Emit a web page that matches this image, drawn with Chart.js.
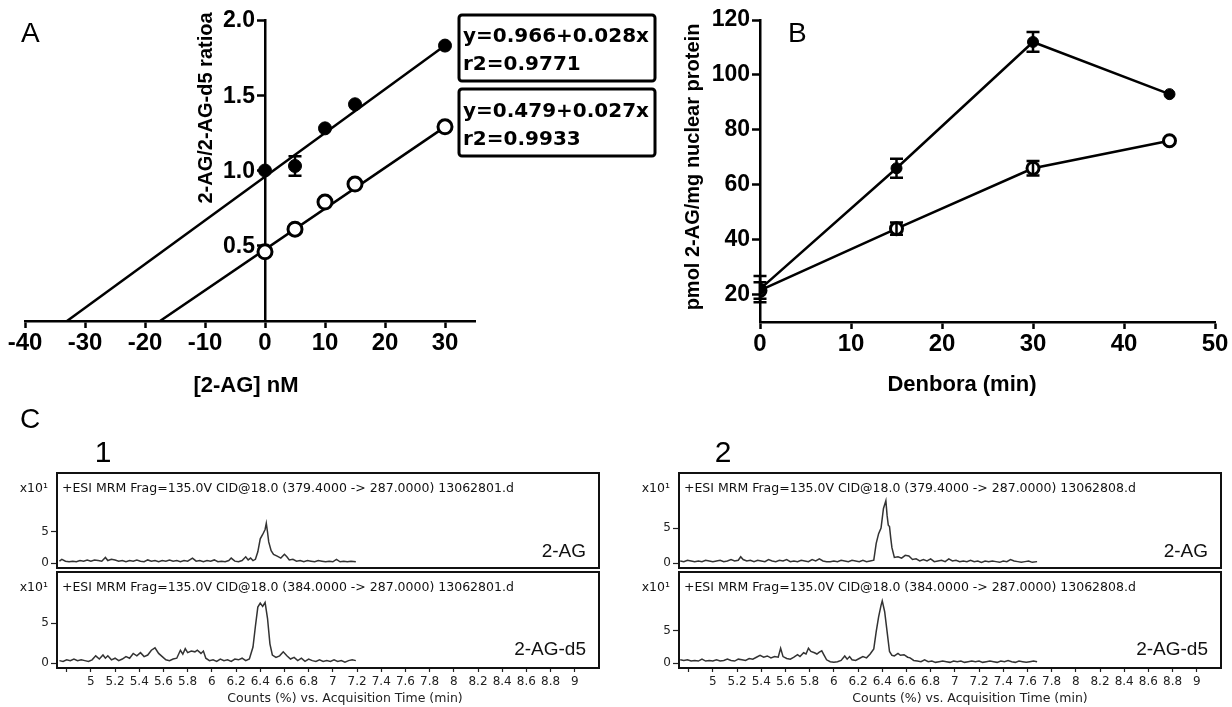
<!DOCTYPE html>
<html>
<head>
<meta charset="utf-8">
<script src="https://cdn.jsdelivr.net/npm/chart.js@4.4.1/dist/chart.umd.min.js"></script>
<style>
  html, body { margin: 0; padding: 0; background: #fff; }
  #wrap { position: relative; width: 1232px; height: 707px; overflow: hidden; background: #fff; }
  canvas { position: absolute; }
</style>
</head>
<body>
<div id="wrap">
  <canvas id="cvA" style="left:0;top:0" width="660" height="400"></canvas>
  <canvas id="cvB" style="left:660px;top:0" width="572" height="400"></canvas>
  <canvas id="cvC1a" style="left:0;top:400px" width="616" height="173"></canvas>
  <canvas id="cvC1b" style="left:0;top:570px" width="616" height="137"></canvas>
  <canvas id="cvC2a" style="left:616px;top:400px" width="616" height="173"></canvas>
  <canvas id="cvC2b" style="left:616px;top:570px" width="616" height="137"></canvas>
</div>
<script>
// ---- Panel A: standard addition ----
const aConc = [0, 5, 10, 15, 30];
const aRatioFilled = [1.00, 1.03, 1.28, 1.44, 1.83];
const aErrFilled = [0, 0.065, 0, 0, 0];
const aRatioOpen = [0.46, 0.61, 0.79, 0.91, 1.29];
const aFitFilledX = [-33, 30];
const aFitFilledY = [0, 1.83];
const aFitOpenX = [-17.5, 30];
const aFitOpenY = [0, 1.29];
const aXTicks = [-40, -30, -20, -10, 0, 10, 20, 30];
const aYTicks = [0.5, 1.0, 1.5, 2.0];

// ---- Panel B: time course ----
const bTime = [0, 15, 30, 45];
const bFilled = [22, 66, 112, 93];
const bFilledErr = [4.8, 3.5, 3.6, 0];
const bOpen = [21.5, 44, 66, 76];
const bOpenErr = [3, 2.2, 2.6, 0];
const bXTicks = [0, 10, 20, 30, 40, 50];
const bYTicks = [20, 40, 60, 80, 100, 120];

// ---- Panel C: MRM chromatograms (x10^1 counts vs min) ----
const cXTicks = [4.8, 5, 5.2, 5.4, 5.6, 5.8, 6, 6.2, 6.4, 6.6, 6.8, 7, 7.2, 7.4, 7.6, 7.8, 8, 8.2, 8.4, 8.6, 8.8, 9];
const cYTicks = [0, 5];

const c1TopTime = [4.74, 4.76, 4.79, 4.82, 4.85, 4.88, 4.91, 4.94, 4.97, 5.00, 5.03, 5.06, 5.09, 5.12, 5.14, 5.17, 5.20, 5.23, 5.26, 5.29, 5.32, 5.35, 5.38, 5.41, 5.44, 5.47, 5.50, 5.53, 5.56, 5.59, 5.62, 5.65, 5.68, 5.71, 5.74, 5.77, 5.80, 5.84, 5.87, 5.90, 5.93, 5.96, 5.99, 6.02, 6.05, 6.08, 6.11, 6.14, 6.16, 6.19, 6.22, 6.25, 6.28, 6.30, 6.32, 6.34, 6.36, 6.38, 6.40, 6.42, 6.44, 6.45, 6.46, 6.47, 6.49, 6.51, 6.54, 6.57, 6.60, 6.62, 6.64, 6.67, 6.70, 6.73, 6.76, 6.79, 6.82, 6.85, 6.88, 6.91, 6.94, 6.97, 7.00, 7.03, 7.06, 7.09, 7.12, 7.15, 7.19];
const c1TopCounts = [0.3, 0.6, 0.3, 0.2, 0.3, 0.2, 0.4, 0.3, 0.5, 0.3, 0.5, 0.4, 0.3, 0.9, 0.4, 0.6, 0.5, 0.3, 0.4, 0.2, 0.4, 0.3, 0.5, 0.3, 0.2, 0.5, 0.3, 0.4, 0.2, 0.4, 0.3, 0.5, 0.3, 0.4, 0.2, 0.4, 0.3, 0.8, 0.3, 0.4, 0.2, 0.4, 0.3, 0.5, 0.2, 0.3, 0.2, 0.4, 0.8, 0.3, 0.2, 0.4, 1.0, 0.5, 0.8, 0.4, 0.6, 1.8, 3.9, 4.6, 5.4, 6.4, 5.0, 3.4, 2.0, 1.4, 1.1, 0.8, 1.4, 1.0, 0.5, 0.6, 0.3, 0.4, 0.2, 0.4, 0.3, 0.2, 0.4, 0.3, 0.2, 0.3, 0.2, 0.6, 0.2, 0.3, 0.2, 0.3, 0.2];

const c1BotTime = [4.74, 4.77, 4.80, 4.83, 4.86, 4.89, 4.92, 4.95, 4.98, 5.01, 5.04, 5.07, 5.10, 5.12, 5.14, 5.17, 5.20, 5.23, 5.26, 5.29, 5.32, 5.35, 5.38, 5.41, 5.44, 5.47, 5.50, 5.53, 5.56, 5.59, 5.62, 5.65, 5.68, 5.71, 5.74, 5.76, 5.78, 5.80, 5.83, 5.86, 5.88, 5.91, 5.93, 5.95, 5.98, 6.01, 6.04, 6.07, 6.10, 6.13, 6.16, 6.19, 6.22, 6.25, 6.28, 6.31, 6.34, 6.36, 6.38, 6.40, 6.42, 6.44, 6.46, 6.48, 6.50, 6.53, 6.56, 6.59, 6.62, 6.65, 6.68, 6.71, 6.74, 6.77, 6.80, 6.83, 6.86, 6.89, 6.92, 6.95, 6.98, 7.01, 7.04, 7.07, 7.10, 7.13, 7.16, 7.19];
const c1BotCounts = [0.3, 0.2, 0.4, 0.3, 0.5, 0.3, 0.4, 0.3, 0.2, 0.4, 0.9, 0.5, 1.0, 0.6, 0.9, 0.4, 0.6, 0.3, 0.5, 0.8, 0.6, 1.2, 0.9, 1.3, 0.8, 1.0, 1.6, 1.9, 1.2, 0.8, 0.4, 0.3, 0.5, 0.6, 1.6, 1.1, 1.8, 1.3, 1.5, 1.4, 1.6, 1.2, 1.5, 0.6, 0.3, 0.4, 0.2, 0.5, 0.3, 0.4, 0.2, 0.5, 0.4, 0.6, 0.3, 0.5, 2.0, 4.6, 7.0, 7.5, 7.1, 7.6, 5.6, 2.4, 1.0, 0.7, 0.9, 1.4, 0.9, 0.5, 0.7, 0.3, 0.6, 0.2, 0.5, 0.3, 0.2, 0.4, 0.2, 0.3, 0.2, 0.4, 0.2, 0.3, 0.1, 0.3, 0.4, 0.3];

const c2TopTime = [4.73, 4.76, 4.79, 4.82, 4.85, 4.88, 4.91, 4.94, 4.97, 5.00, 5.03, 5.06, 5.09, 5.12, 5.15, 5.18, 5.21, 5.23, 5.25, 5.28, 5.31, 5.34, 5.37, 5.40, 5.43, 5.46, 5.49, 5.52, 5.55, 5.58, 5.61, 5.64, 5.67, 5.70, 5.73, 5.76, 5.79, 5.82, 5.85, 5.88, 5.91, 5.94, 5.97, 6.00, 6.03, 6.06, 6.09, 6.12, 6.15, 6.18, 6.21, 6.24, 6.27, 6.30, 6.33, 6.35, 6.37, 6.39, 6.41, 6.43, 6.44, 6.45, 6.46, 6.47, 6.48, 6.50, 6.53, 6.56, 6.59, 6.62, 6.65, 6.68, 6.71, 6.74, 6.77, 6.80, 6.83, 6.86, 6.89, 6.92, 6.95, 6.98, 7.01, 7.04, 7.07, 7.10, 7.13, 7.16, 7.19, 7.22, 7.25, 7.28, 7.31, 7.34, 7.37, 7.40, 7.43, 7.46, 7.49, 7.52, 7.55, 7.58, 7.61, 7.64, 7.68];
const c2TopCounts = [0.3, 0.2, 0.4, 0.3, 0.2, 0.3, 0.2, 0.4, 0.3, 0.2, 0.3, 0.4, 0.2, 0.3, 0.5, 0.3, 0.4, 0.9, 0.5, 0.3, 0.4, 0.2, 0.4, 0.3, 0.2, 0.5, 0.3, 0.2, 0.4, 0.3, 0.5, 0.2, 0.3, 0.2, 0.4, 0.3, 0.2, 0.5, 0.3, 0.6, 0.3, 0.2, 0.2, 0.3, 0.2, 0.4, 0.3, 0.2, 0.4, 0.3, 0.2, 0.4, 0.2, 0.3, 0.4, 2.8, 4.2, 5.0, 7.8, 8.9, 6.8, 5.4, 5.2, 3.6, 2.2, 0.8, 0.9, 0.7, 1.1, 1.0, 0.5, 0.6, 0.3, 0.5, 0.3, 0.6, 0.2, 0.3, 0.4, 0.2, 0.6, 0.3, 0.4, 0.2, 0.3, 0.2, 0.4, 0.2, 0.3, 0.1, 0.3, 0.2, 0.3, 0.2, 0.1, 0.3, 0.2, 0.5, 0.3, 0.2, 0.1, 0.2, 0.3, 0.1, 0.2];

const c2BotTime = [4.73, 4.76, 4.79, 4.82, 4.85, 4.88, 4.91, 4.94, 4.97, 5.00, 5.03, 5.06, 5.09, 5.12, 5.15, 5.18, 5.21, 5.24, 5.27, 5.30, 5.33, 5.36, 5.39, 5.42, 5.45, 5.48, 5.51, 5.54, 5.56, 5.58, 5.61, 5.64, 5.67, 5.70, 5.72, 5.75, 5.77, 5.79, 5.81, 5.84, 5.86, 5.88, 5.90, 5.92, 5.94, 5.97, 6.00, 6.03, 6.06, 6.09, 6.11, 6.13, 6.15, 6.18, 6.21, 6.24, 6.27, 6.30, 6.33, 6.35, 6.37, 6.39, 6.40, 6.42, 6.44, 6.46, 6.48, 6.50, 6.53, 6.55, 6.58, 6.61, 6.63, 6.66, 6.69, 6.72, 6.75, 6.78, 6.81, 6.84, 6.87, 6.90, 6.93, 6.96, 6.99, 7.02, 7.05, 7.08, 7.11, 7.14, 7.17, 7.20, 7.23, 7.26, 7.29, 7.32, 7.35, 7.38, 7.41, 7.44, 7.47, 7.50, 7.53, 7.56, 7.59, 7.62, 7.65, 7.68];
const c2BotCounts = [0.5, 0.4, 0.5, 0.3, 0.4, 0.3, 0.6, 0.3, 0.4, 0.3, 0.5, 0.3, 0.4, 0.6, 0.4, 0.3, 0.6, 0.5, 0.4, 0.7, 0.6, 0.9, 1.2, 0.9, 1.1, 0.8, 1.0, 0.9, 2.3, 1.0, 0.7, 0.6, 0.9, 1.3, 1.0, 1.6, 1.4, 2.3, 1.8, 1.6, 1.4, 1.7, 1.9, 1.2, 0.5, 0.2, 0.1, 0.2, 0.4, 1.1, 0.6, 1.0, 0.5, 0.4, 0.7, 1.0, 0.8, 1.4, 2.2, 4.9, 7.2, 9.0, 9.7, 8.0, 4.9, 1.8, 1.2, 1.1, 1.5, 1.2, 1.3, 0.9, 0.8, 0.4, 0.3, 0.2, 0.5, 0.2, 0.3, 0.1, 0.2, 0.3, 0.2, 0.1, 0.3, 0.2, 0.3, 0.1, 0.2, 0.3, 0.2, 0.3, 0.1, 0.2, 0.3, 0.2, 0.1, 0.3, 0.2, 0.4, 0.2, 0.1, 0.3, 0.2, 0.1, 0.2, 0.3, 0.2];

// Build {x, y} points from two arrays
function toPoints(xs, ys) {
  return xs.map(function (x, i) { return { x: x, y: ys[i] }; });
}

// Draw vertical error bars with caps for datasets that carry an errors array
const errorBars = {
  id: "errorBars",
  afterDatasetsDraw(chart, args, opts) {
    const ctx = chart.ctx;
    const yScale = chart.scales.y;
    chart.data.datasets.forEach(function (ds, i) {
      if (!ds.errors) return;
      const meta = chart.getDatasetMeta(i);
      ctx.save();
      ctx.strokeStyle = "#000";
      ctx.lineWidth = opts.width || 2.5;
      meta.data.forEach(function (pt, j) {
        const e = ds.errors[j];
        if (!e) return;
        const v = ds.data[j].y;
        const y1 = yScale.getPixelForValue(v + e);
        const y2 = yScale.getPixelForValue(v - e);
        const half = opts.cap || 6.5;
        ctx.beginPath();
        ctx.moveTo(pt.x, y1); ctx.lineTo(pt.x, y2);
        ctx.moveTo(pt.x - half, y1); ctx.lineTo(pt.x + half, y1);
        ctx.moveTo(pt.x - half, y2); ctx.lineTo(pt.x + half, y2);
        ctx.stroke();
      });
      ctx.restore();
    });
  },
};

// Free text and boxes at fixed canvas positions
const textLayer = {
  id: "textLayer",
  afterDraw(chart, args, opts) {
    const ctx = chart.ctx;
    (opts.boxes || []).forEach(function (b) {
      ctx.save();
      ctx.strokeStyle = "#000";
      ctx.lineWidth = b.width || 3;
      ctx.beginPath();
      ctx.roundRect(b.x, b.y, b.w, b.h, 3);
      ctx.stroke();
      ctx.restore();
    });
    (opts.items || []).forEach(function (it) {
      ctx.save();
      ctx.font = it.font;
      ctx.fillStyle = it.color || "#000";
      ctx.textAlign = it.align || "left";
      ctx.textBaseline = "alphabetic";
      ctx.translate(it.x, it.y);
      if (it.rotate) ctx.rotate(it.rotate);
      ctx.fillText(it.text, 0, 0);
      ctx.restore();
    });
  },
};

// Labels for a y axis that crosses at x = 0 (placed left of its tick marks)
const crossLabels = {
  id: "crossLabels",
  afterDraw(chart, args, opts) {
    if (!opts.values) return;
    const ctx = chart.ctx;
    const x0 = chart.scales.x.getPixelForValue(0);
    ctx.save();
    ctx.font = opts.font;
    ctx.fillStyle = "#000";
    ctx.textAlign = "right";
    ctx.textBaseline = "middle";
    opts.values.forEach(function (v) {
      ctx.fillText(v.toFixed(1), x0 - opts.gap, chart.scales.y.getPixelForValue(v) + 1);
    });
    ctx.restore();
  },
};

// Frame, header and compound label of a chromatogram pane
const chromFrame = {
  id: "chromFrame",
  afterDraw(chart, args, opts) {
    const ctx = chart.ctx;
    const a = chart.chartArea;
    ctx.save();
    ctx.strokeStyle = "#111";
    ctx.lineWidth = 2;
    ctx.strokeRect(a.left, a.top, a.right - a.left, a.bottom - a.top);
    ctx.fillStyle = "#111";
    ctx.font = "12.5px 'DejaVu Sans'";
    ctx.textAlign = "left";
    ctx.fillText(opts.header, a.left + 5, a.top + 19);
    ctx.textAlign = "right";
    ctx.fillText("x10\u00b9", a.left - 9, a.top + 19);
    ctx.font = "19px 'Liberation Sans'";
    ctx.fillText(opts.label, a.right - 13, a.bottom - opts.labelLift);
    ctx.restore();
  },
};

Chart.register(errorBars, textLayer);

const black = "#000";
const boldTick = { family: "'Liberation Sans'", size: 24, weight: "bold" };

function axisGrid(len) {
  return { display: true, drawOnChartArea: false, tickLength: len, tickWidth: 2.5, tickColor: black };
}

// ---- Panel A ----
new Chart(document.getElementById("cvA"), {
  type: "scatter",
  plugins: [crossLabels],
  data: {
    datasets: [
      { data: toPoints(aConc, aRatioFilled), errors: aErrFilled, pointRadius: 6.5, pointBackgroundColor: black, pointBorderColor: black, pointBorderWidth: 1, showLine: false },
      { data: toPoints(aConc, aRatioOpen), pointRadius: 7, pointBackgroundColor: "#fff", pointBorderColor: black, pointBorderWidth: 3, showLine: false },
      { data: toPoints(aFitFilledX, aFitFilledY), showLine: true, pointRadius: 0, borderColor: black, borderWidth: 2.5 },
      { data: toPoints(aFitOpenX, aFitOpenY), showLine: true, pointRadius: 0, borderColor: black, borderWidth: 2.5 },
    ],
  },
  options: {
    responsive: false,
    animation: false,
    devicePixelRatio: 1,
    layout: { padding: { left: 25, right: 185, top: 20, bottom: 0 } },
    plugins: {
      legend: { display: false },
      tooltip: { enabled: false },
      errorBars: { width: 2.5, cap: 6.5 },
      crossLabels: { values: aYTicks, font: "bold 23px 'Liberation Sans'", gap: 10 },
      textLayer: {
        boxes: [
          { x: 459, y: 15, w: 196, h: 66 },
          { x: 459, y: 89, w: 196, h: 67 },
        ],
        items: [
          { text: "A", x: 21, y: 42, font: "28px 'Liberation Sans'" },
          { text: "2-AG/2-AG-d5 ratioa", x: 212, y: 108, font: "bold 20px 'Liberation Sans'", align: "center", rotate: -Math.PI / 2 },
          { text: "[2-AG] nM", x: 246, y: 392, font: "bold 22px 'Liberation Sans'", align: "center" },
          { text: "y=0.966+0.028x", x: 463, y: 42, font: "bold 20px 'DejaVu Sans'" },
          { text: "r2=0.9771", x: 463, y: 70, font: "bold 20px 'DejaVu Sans'" },
          { text: "y=0.479+0.027x", x: 463, y: 117, font: "bold 20px 'DejaVu Sans'" },
          { text: "r2=0.9933", x: 463, y: 145, font: "bold 20px 'DejaVu Sans'" },
        ],
      },
    },
    scales: {
      x: {
        type: "linear", min: -40, max: 35, position: "bottom",
        afterBuildTicks: function (s) { s.ticks = aXTicks.map(function (v) { return { value: v }; }); },
        afterFit: function (s) { s.height = 79; },
        ticks: { color: black, font: boldTick, padding: 1, maxRotation: 0 },
        grid: axisGrid(7),
        border: { display: true, color: black, width: 2.5 },
      },
      y: {
        type: "linear", min: 0, max: 2, position: { x: 0 },
        afterBuildTicks: function (s) { s.ticks = aYTicks.map(function (v) { return { value: v }; }); },
        afterFit: function (s) { s.width = 0; },
        ticks: { display: false },
        grid: axisGrid(7),
        border: { display: true, color: black, width: 2.5 },
      },
    },
  },
});

// ---- Panel B ----
new Chart(document.getElementById("cvB"), {
  type: "scatter",
  data: {
    datasets: [
      { data: toPoints(bTime, bFilled), errors: bFilledErr, showLine: true, borderColor: black, borderWidth: 2.5, pointRadius: 5.5, pointBackgroundColor: black, pointBorderColor: black, pointBorderWidth: 1 },
      { data: toPoints(bTime, bOpen), errors: bOpenErr, showLine: true, borderColor: black, borderWidth: 2.5, pointRadius: 6, pointBackgroundColor: "#fff", pointBorderColor: black, pointBorderWidth: 3 },
    ],
  },
  options: {
    responsive: false,
    animation: false,
    devicePixelRatio: 1,
    layout: { padding: { left: 0, right: 17, top: 20, bottom: 0 } },
    plugins: {
      legend: { display: false },
      tooltip: { enabled: false },
      errorBars: { width: 2.5, cap: 6.5 },
      textLayer: {
        items: [
          { text: "B", x: 128, y: 42, font: "28px 'Liberation Sans'" },
          { text: "pmol 2-AG/mg nuclear protein", x: 39, y: 167, font: "bold 20px 'Liberation Sans'", align: "center", rotate: -Math.PI / 2 },
          { text: "Denbora (min)", x: 302, y: 391, font: "bold 22px 'Liberation Sans'", align: "center" },
        ],
      },
    },
    scales: {
      x: {
        type: "linear", min: 0, max: 50, position: "bottom",
        afterBuildTicks: function (s) { s.ticks = bXTicks.map(function (v) { return { value: v }; }); },
        afterFit: function (s) { s.height = 78; },
        ticks: { color: black, font: boldTick, padding: 1, maxRotation: 0 },
        grid: axisGrid(7),
        border: { display: true, color: black, width: 2.5 },
      },
      y: {
        type: "linear", min: 10, max: 120, position: "left",
        afterBuildTicks: function (s) { s.ticks = bYTicks.map(function (v) { return { value: v }; }); },
        afterFit: function (s) { s.width = 100; },
        ticks: { color: black, font: { family: "'Liberation Sans'", size: 23, weight: "bold" }, padding: 2 },
        grid: axisGrid(8),
        border: { display: true, color: black, width: 2.5 },
      },
    },
  },
});

// ---- Panel C ----
const chromFont = { family: "'DejaVu Sans'", size: 12 };

function makeChrom(id, time, counts, cfg) {
  new Chart(document.getElementById(id), {
    type: "line",
    plugins: [chromFrame],
    data: {
      datasets: [{
        data: toPoints(time, counts),
        borderColor: "#333",
        borderWidth: 1.5,
        pointRadius: 0,
        tension: 0,
      }],
    },
    options: {
      responsive: false,
      animation: false,
      devicePixelRatio: 1,
      layout: { padding: { left: 0, right: cfg.padRight, top: cfg.padTop, bottom: cfg.showX ? 0 : 5 } },
      plugins: {
        legend: { display: false },
        tooltip: { enabled: false },
        chromFrame: { header: cfg.header, label: cfg.label, labelLift: cfg.labelLift },
        textLayer: { items: cfg.texts || [] },
      },
      scales: {
        x: {
          type: "linear", min: 4.72, max: 9.2, display: cfg.showX,
          afterBuildTicks: function (s) { s.ticks = cXTicks.map(function (v) { return { value: v }; }); },
          afterFit: function (s) { s.height = cfg.showX ? 39 : 0; },
          ticks: {
            color: "#222", font: chromFont, padding: 3, maxRotation: 0, autoSkip: false,
            callback: function (v) { return v < 4.9 ? "" : String(Number(v.toFixed(1))); },
          },
          grid: { display: true, drawOnChartArea: false, tickLength: 4, tickWidth: 1.2, tickColor: "#222" },
          border: { display: true, color: "#111", width: 2 },
        },
        y: {
          type: "linear", min: cfg.yMin, max: cfg.yMax, position: "left",
          afterBuildTicks: function (s) { s.ticks = cYTicks.map(function (v) { return { value: v }; }); },
          afterFit: function (s) { s.width = cfg.yWidth; s.paddingTop = 0; s.paddingBottom = 0; },
          ticks: { color: "#222", font: chromFont, padding: 2 },
          grid: { display: true, drawOnChartArea: false, tickLength: 6, tickWidth: 1.2, tickColor: "#222" },
          border: { display: true, color: "#111", width: 2 },
        },
      },
    },
  });
}

const axisTitleC = "Counts (%) vs. Acquisition Time (min)";

makeChrom("cvC1a", c1TopTime, c1TopCounts, {
  header: "+ESI MRM Frag=135.0V CID@18.0 (379.4000 -> 287.0000) 13062801.d",
  label: "2-AG", labelLift: 11, showX: false, padTop: 73, padRight: 17, yWidth: 57,
  yMin: -0.8, yMax: 14.5,
  texts: [
    { text: "C", x: 20, y: 28, font: "28px 'Liberation Sans'" },
    { text: "1", x: 103, y: 62, font: "30px 'Liberation Sans'", align: "center" },
  ],
});
makeChrom("cvC1b", c1BotTime, c1BotCounts, {
  header: "+ESI MRM Frag=135.0V CID@18.0 (384.0000 -> 287.0000) 13062801.d",
  label: "2-AG-d5", labelLift: 13, showX: true, padTop: 2, padRight: 17, yWidth: 57,
  yMin: -0.625, yMax: 11.4,
  texts: [
    { text: axisTitleC, x: 345, y: 132, font: "12.5px 'DejaVu Sans'", align: "center", color: "#222" },
  ],
});
makeChrom("cvC2a", c2TopTime, c2TopCounts, {
  header: "+ESI MRM Frag=135.0V CID@18.0 (379.4000 -> 287.0000) 13062808.d",
  label: "2-AG", labelLift: 11, showX: false, padTop: 73, padRight: 11, yWidth: 63,
  yMin: -0.71, yMax: 12.86,
  texts: [
    { text: "2", x: 107, y: 62, font: "30px 'Liberation Sans'", align: "center" },
  ],
});
makeChrom("cvC2b", c2BotTime, c2BotCounts, {
  header: "+ESI MRM Frag=135.0V CID@18.0 (384.0000 -> 287.0000) 13062808.d",
  label: "2-AG-d5", labelLift: 13, showX: true, padTop: 2, padRight: 11, yWidth: 63,
  yMin: -0.78, yMax: 14.2,
  texts: [
    { text: axisTitleC, x: 354, y: 132, font: "12.5px 'DejaVu Sans'", align: "center", color: "#222" },
  ],
});
</script>
</body>
</html>
